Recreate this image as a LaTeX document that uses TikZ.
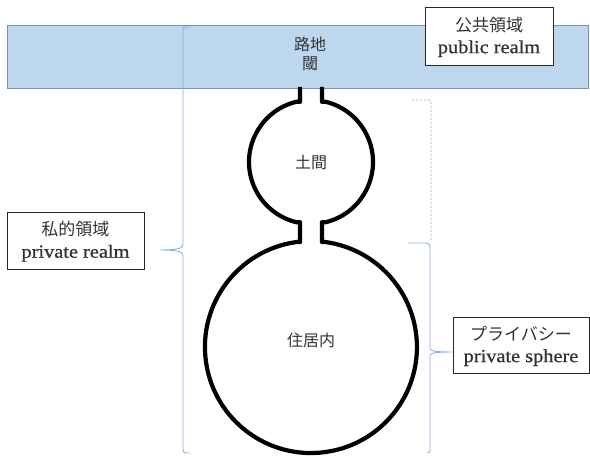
\documentclass[tikz,border=0pt]{standalone}
\usepackage{fontspec}
\setmainfont{Liberation Serif}
\newfontfamily\lat[FakeStretch=1.1,FakeBold=0.8]{Liberation Serif}
\newfontfamily\jp{Noto Sans CJK JP}
\definecolor{bandfill}{HTML}{BDD7EE}
\definecolor{banddraw}{HTML}{7395BA}
\definecolor{bracecol}{HTML}{8AB2E0}
\definecolor{dotcol}{HTML}{9DB2C8}
\definecolor{txt}{HTML}{333333}
\tikzset{
  labelbox/.style={draw=black!85, line width=1pt, fill=white, align=center, text=txt,
    inner sep=0pt, font=\lat\fontsize{18.5}{22}\selectfont},
  jptext/.style={text=txt, align=center, font=\jp\fontsize{16}{20}\selectfont},
  bracestyle/.style={draw=bracecol, line width=0.9pt},
  gourd/.style={draw=black, line width=4.2pt, line join=round},
}
\begin{document}
\begin{tikzpicture}[x=1pt,y=1pt]
\path[fill=white] (0,0) rectangle (590,456);
\useasboundingbox (0,0) rectangle (590,456);
% band
\node[draw=banddraw, fill=bandfill, line width=0.8pt, minimum width=581pt, minimum height=63pt, inner sep=0pt] (band) at (297.5,399.5) {};
\node[jptext] (roji) at (310,412) {路地};
\node[jptext] (shiki) at (310,392) {閾};
% left brace (private realm)
\draw[bracestyle] (190,429) -- (186,429) .. controls (184,429) and (183,428) .. (183,426)
  -- (183,212) .. controls (183,208) and (179,206) .. (160,206)
  .. controls (179,206) and (183,204) .. (183,200)
  -- (183,6) .. controls (183,4) and (184,3) .. (186,3) -- (190,3);
% right brace (privacy)
\draw[bracestyle] (408,213) -- (426,213) .. controls (428,213) and (430,212) .. (430,210)
  -- (430,108) .. controls (430,105) and (434,104) .. (453,104)
  .. controls (434,104) and (430,103) .. (430,100)
  -- (430,6) .. controls (430,4) and (429,3) .. (427,3);
% dotted brace
\draw[draw=dotcol, line width=0.9pt, dash pattern=on 2pt off 2pt] (412,356) -- (429,356) -- (431,354) -- (431,215);
% gourd
\draw[gourd] (300,369) -- (300,354.16) -- (296,354.16)
  arc[start angle=104, end angle=256, radius=62] -- (300,233.84) -- (300,213.9) -- (296,213.9)
  arc[start angle=98.1, end angle=441.9, radius=106] -- (322,213.9) -- (322,233.84) -- (326,233.84)
  arc[start angle=-76, end angle=76, radius=62] -- (322,354.16) -- (322,369);
\node[jptext] (doma) at (311,294) {土間};
\node[jptext] (jukyo) at (311,116) {住居内};
% label boxes
\node[labelbox, minimum width=128pt, minimum height=58pt] (public) at (489,419)
  {{\jp\fontsize{17}{21}\selectfont 公共領域}\\public realm};
\node[labelbox, minimum width=137pt, minimum height=57pt] (privrealm) at (75.5,214.5)
  {{\jp\fontsize{17}{21}\selectfont 私的領域}\\private realm};
\node[labelbox, minimum width=136pt, minimum height=56pt] (privsphere) at (521,110)
  {{\jp\fontsize{17}{21}\selectfont プライバシー}\\private sphere};
\end{tikzpicture}
\end{document}
